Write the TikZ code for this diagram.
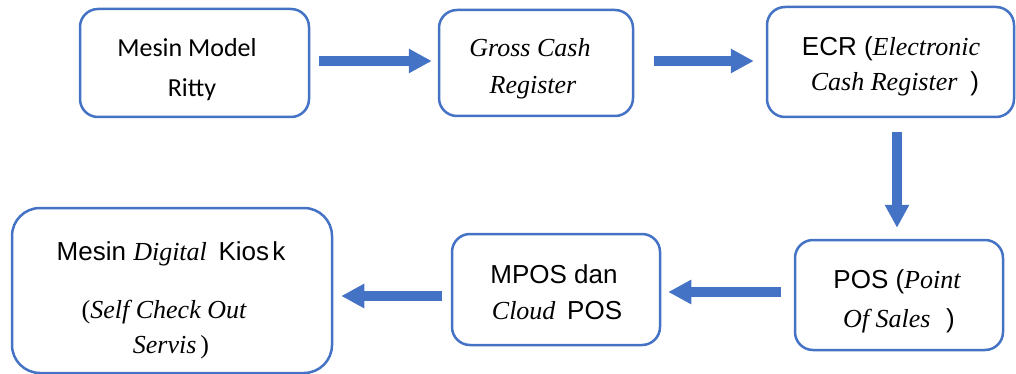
\documentclass[tikz,border=0pt]{standalone}
\usepackage{fontspec}
\setmainfont{Liberation Sans}
\newfontfamily\calibrifont{Carlito}
\newfontfamily\timesfont{Liberation Serif}
\usetikzlibrary{arrows.meta}
\definecolor{ofblue}{HTML}{4472C4}
% italic serif words inside the sans labels
\newcommand\tmi[1]{{\timesfont\itshape #1}}
\newcommand\tmr[1]{{\timesfont #1}}

\begin{document}
\begin{tikzpicture}[x=1pt,y=-1pt,
  stage/.style={draw=ofblue, line width=2.5pt, rounded corners=18pt, inner sep=0pt},
  lbl/.style={anchor=base, inner sep=0pt, font=\fontsize{26}{30}\selectfont},
  flow/.style={draw=ofblue, line width=10pt, -{Triangle[length=23pt,width=23pt]}}]

\useasboundingbox (0,0) rectangle (1016,374);

% stages
\node[stage, minimum width=229pt, minimum height=108pt] (b1) at (194.5,63) {};
\node[stage, minimum width=194pt, minimum height=106pt] (b2) at (536,63) {};
\node[stage, minimum width=247pt, minimum height=110pt] (b3) at (890.5,62) {};
\node[stage, minimum width=208pt, minimum height=110pt] (b4) at (899,295) {};
\node[stage, minimum width=208pt, minimum height=111pt] (b5) at (556,289.5) {};
\node[stage, minimum width=320pt, minimum height=165pt, rounded corners=28pt] (b6) at (172,290.5) {};

% labels
\node[lbl] (t1a) at (187,57) {\calibrifont Mesin Model};
\node[lbl] (t1b) at (192,97) {\calibrifont Ritty};

\node[lbl] (t2a) at (530,57) {\tmi{Gross Cash}};
\node[lbl] (t2b) at (533,94) {\tmi{Register}};

\node[lbl] (t3a) at (891,56) {ECR (\tmi{Electronic}};
\node[lbl] (t3b) at (895,91) {\tmi{Cash Register}\hspace{0.5em})};

\node[lbl] (t4a) at (897,288) {POS (\tmi{Point}};
\node[lbl] (t4b) at (899,327) {\tmi{Of Sales}\hspace{0.6em})};

\node[lbl] (t5a) at (554,283) {MPOS dan};
\node[lbl] (t5b) at (557,319) {\tmi{Cloud}\hspace{0.45em}POS};

\node[lbl] (t6a) at (171,260) {Mesin \tmi{Digital}\hspace{0.45em}Kios\hspace{0.12em}k};
\node[lbl] (t6b) at (164,318) {\tmr{(}\tmi{Self Check Out}};
\node[lbl] (t6c) at (171,353) {\tmi{Servis}\hspace{0.15em}\tmr{)}};

% flow
\draw[flow] ([xshift=9pt,yshift=2pt]b1.east) -- ([xshift=-6pt,yshift=2pt]b2.west);
\draw[flow] ([xshift=20pt,yshift=2pt]b2.east) -- ([xshift=-12pt,yshift=1pt]b3.west);
\draw[flow] ([xshift=6.5pt,yshift=-14pt]b3.south) -- ([xshift=-2pt,yshift=11pt]b4.north);
\draw[flow] ([xshift=-13pt,yshift=3pt]b4.west) -- ([xshift=7pt,yshift=-2.5pt]b5.east);
\draw[flow] ([xshift=-9pt,yshift=-6.5pt]b5.west) -- ([xshift=8pt,yshift=-5.5pt]b6.east);
\end{tikzpicture}
\end{document}
